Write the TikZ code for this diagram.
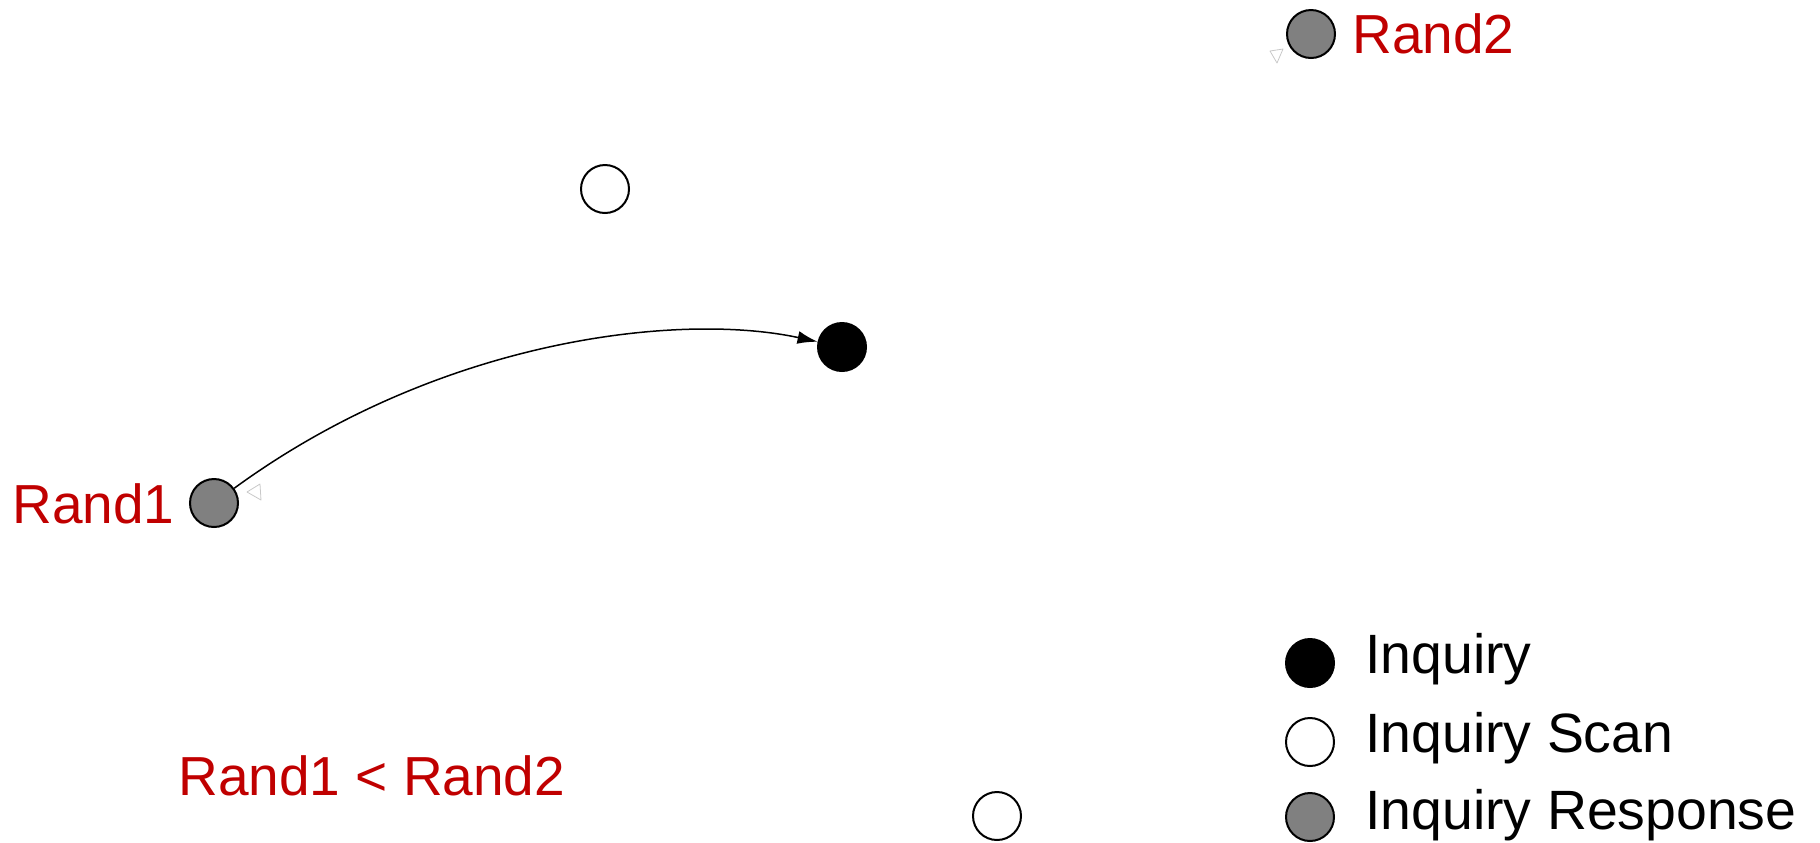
\documentclass[tikz,border=0pt]{standalone}
\usepackage{fontspec}
\setmainfont{Liberation Sans}
\usetikzlibrary{arrows.meta}
\definecolor{lblred}{HTML}{C00000}
\definecolor{respgray}{HTML}{808080}
\definecolor{faint}{HTML}{C8C8C8}
\tikzset{
  dev/.style={circle, draw=black, line width=1pt, minimum size=24pt, inner sep=0pt},
  inq/.style={dev, fill=black},
  scan/.style={dev, fill=white},
  resp/.style={dev, fill=respgray},
  redlbl/.style={anchor=base west, inner sep=0pt, text=lblred, font=\fontsize{27.5}{32}\selectfont},
  leglbl/.style={anchor=base west, inner sep=0pt, text=black, font=\fontsize{27.7}{32}\selectfont},
  conn/.style={line width=0.75pt, -{Latex[length=10pt,width=6.5pt]}},
  ghost/.style={draw=faint, line width=0.4pt, line join=round}
}
\begin{document}
\begin{tikzpicture}[x=0.5pt, y=-0.5pt]
\useasboundingbox (0,0) rectangle (1820,842);
% devices
\node[resp] (r2) at (1311,34) {};
\node[scan] (s1) at (605,189) {};
\node[inq] (i1) at (842,347) {};
\node[resp] (r1) at (214,503) {};
\node[scan] (s2) at (997,816) {};
% labels
\node[redlbl] (l2) at (1352,53) {Rand2};
\node[redlbl, anchor=base east] (l1) at (175,523) {Rand1};
\node[redlbl] (cmp) at (178,795) {Rand1 < Rand2};
% connector
\draw[conn] (r1) .. controls (440,338) and (680,312) .. (i1);
% faint arrowheads
\draw[ghost] (247,492) -- (260,484) -- (261,500) -- cycle;
\draw[ghost] (1270,51) -- (1283,49) -- (1277,63) -- cycle;
% legend
\node[inq] (k1) at (1310,663) {};
\node[leglbl] (t1) at (1365,673) {Inquiry};
\node[scan] (k2) at (1310,742) {};
\node[leglbl] (t2) at (1365,752) {Inquiry Scan};
\node[resp] (k3) at (1310,817) {};
\node[leglbl] (t3) at (1365,829) {Inquiry Response};
\end{tikzpicture}
\end{document}
